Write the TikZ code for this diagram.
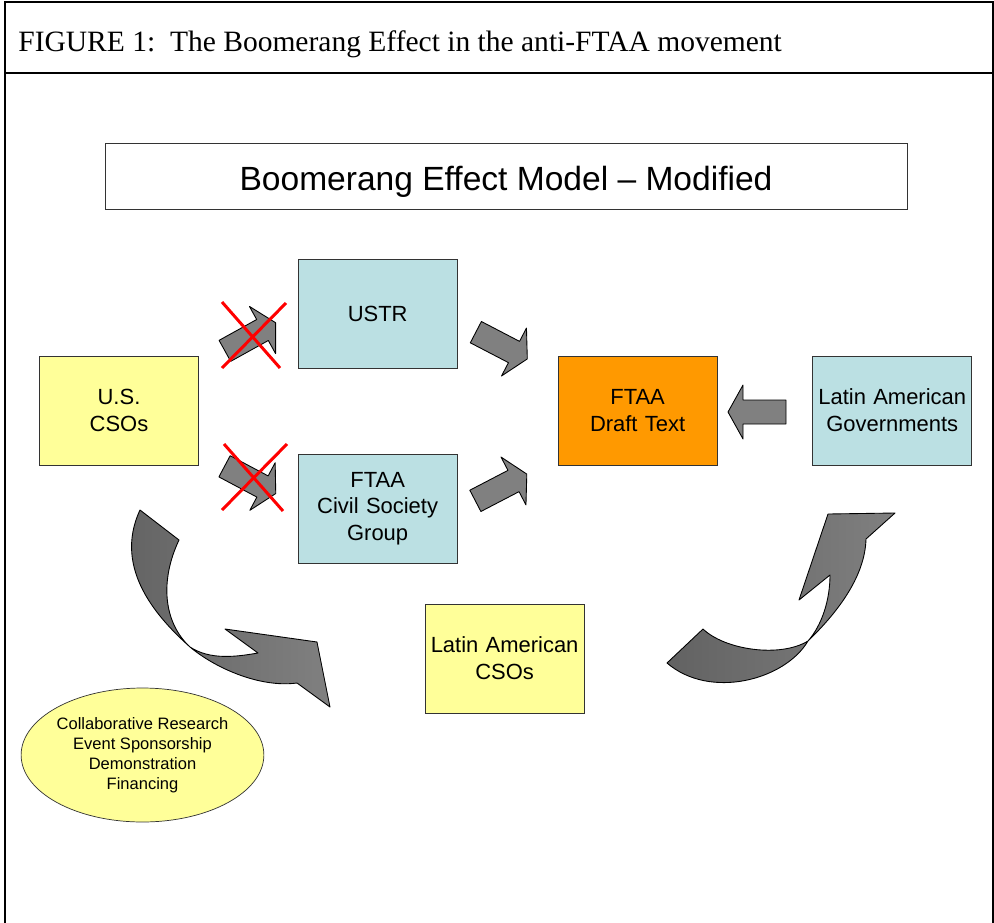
\documentclass[tikz,border=0pt]{standalone}
\usepackage{fontspec}
\setmainfont{Liberation Sans}
\newfontfamily\capfont{Liberation Serif}
\usepackage{xcolor}
\usepackage{tikz}
\usetikzlibrary{shapes,arrows,positioning,calc}

\definecolor{boxblue}{HTML}{BBE0E3}
\definecolor{boxyellow}{HTML}{FFFF99}
\definecolor{boxorange}{HTML}{FF9900}
\definecolor{arrowgray}{HTML}{808080}
\definecolor{arrowdark}{HTML}{626262}

% straight block arrow: head base point, angle
\newcommand{\bigarrow}[2]{%
  \begin{scope}[shift={#1}, rotate=#2]
    \draw[blockarrow] (-43,-12) -- (0,-12) -- (0,-27) -- (15,0) -- (0,27) -- (0,12) -- (-43,12) -- cycle;
  \end{scope}}

\begin{document}
\begin{tikzpicture}[
        x=0.02cm, y=-0.02cm,
        block/.style={rectangle, draw=black!80, fill=boxblue, text width=3.1cm, text centered, inner sep=1pt, minimum width=3.18cm, minimum height=2.18cm, font=\fontsize{12.5}{15.3}\selectfont},
        blockarrow/.style={draw=black, line width=0.5pt, fill=arrowgray, line join=round},
        curvearrow/.style={draw=black, line width=0.5pt, line join=round},
        cross/.style={red, line width=1.7pt}
    ]
        \useasboundingbox (0,0) rectangle (994,923);

        % Frame
        \draw[line width=1.1pt] (5,923) -- (5,2) -- (993,2) -- (993,923);
        \draw[line width=1.1pt] (5,73) -- (993,73);
        \node[anchor=base west, inner sep=0pt, font=\capfont\fontsize{16.8}{19}\selectfont] (caption) at (18,51) {FIGURE 1:\ \ The Boomerang Effect in the anti-FTAA movement};

        % Title
        \node[draw=black!80, minimum width=16.04cm, minimum height=1.32cm, text height=0.6cm, text depth=0.04cm, font=\fontsize{19.1}{23}\selectfont] (model) at (506,176) {Boomerang Effect Model -- Modified};

        % Blocks
        \node[block, fill=boxyellow] (uscso) at (119,410.5) {U.S.\\CSOs};
        \node[block, right=1.98cm of uscso, yshift=1.93cm] (ustr) {USTR};
        \node[block, below=1.7cm of ustr] (csg) {FTAA\\Civil Society\\Group};
        \node[block, fill=boxorange, right=7.18cm of uscso] (draft) {FTAA\\Draft Text};
        \node[block, right=1.9cm of draft] (lagov) {Latin American\\Governments};
        \node[block, fill=boxyellow, below=0.8cm of csg, xshift=2.54cm] (lacso) {Latin American\\CSOs};
        \node[ellipse, draw=black!80, fill=boxyellow, minimum width=4.82cm, minimum height=2.68cm, inner sep=0pt, align=center, font=\fontsize{9.4}{11.3}\selectfont] (support) at (142.5,755) {Collaborative Research\\Event Sponsorship\\Demonstration\\Financing};

        % Arrows
        \bigarrow{(262.5,330)}{29}
        \bigarrow{(262.5,486.5)}{-28}
        \bigarrow{(514,352)}{-27.5}
        \bigarrow{(513.5,481)}{27.5}
        \bigarrow{(743,412)}{180}

        % Crosses
        \draw[cross] (222,302) -- (280,368);
        \draw[cross] (286,303) -- (222,368);
        \draw[cross] (224,444) -- (283,511);
        \draw[cross] (287,444) -- (222,510);

        % Boomerang arrows
        \draw[curvearrow, left color=arrowdark, right color=arrowgray] (140,510) -- (179,540) .. controls (160,580) and (163,622) .. (190,647) .. controls (210,660) and (235,657) .. (258,653) -- (225,629) -- (317,642) -- (330,707) -- (297,683) .. controls (260,688) and (215,668) .. (190,647) .. controls (160,620) and (112,570) .. (140,510) -- cycle;
        \draw[curvearrow, left color=arrowdark, right color=arrowgray] (667,663) -- (703,629) .. controls (725,650) and (780,658) .. (808,641) .. controls (822,625) and (830,600) .. (830,575) -- (799,600) -- (828,514) -- (895,513) -- (866,539) .. controls (865,575) and (840,610) .. (808,641) .. controls (785,680) and (710,700) .. (667,663) -- cycle;

    \end{tikzpicture}
\end{document}
